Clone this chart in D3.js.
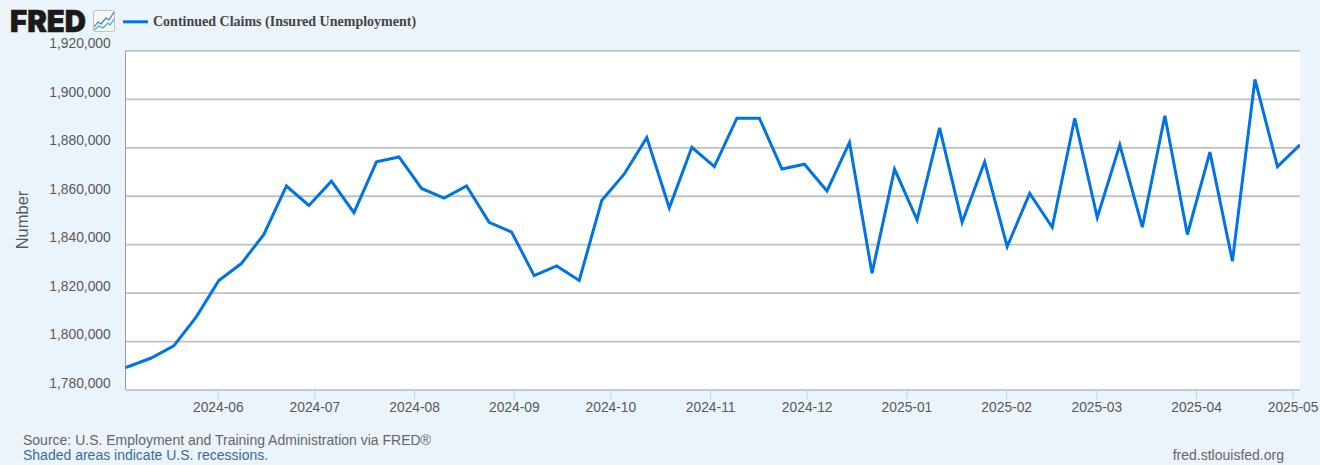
<!DOCTYPE html>
<html><head><meta charset="utf-8">
<script src="https://cdn.jsdelivr.net/npm/d3@7/dist/d3.min.js"></script>
<style>
html,body{margin:0;padding:0;background:#ebf3fb;overflow:hidden}
svg{display:block}
text{font-family:"Liberation Sans",Arial,sans-serif}
</style></head><body><svg id="c" width="1320" height="465"></svg>
<script>
const seriesName = "Continued Claims (Insured Unemployment)";
const weekDates = ["2024-04-27","2024-05-04","2024-05-11","2024-05-18","2024-05-25","2024-06-01","2024-06-08","2024-06-15","2024-06-22","2024-06-29","2024-07-06","2024-07-13","2024-07-20","2024-07-27","2024-08-03","2024-08-10","2024-08-17","2024-08-24","2024-08-31","2024-09-07","2024-09-14","2024-09-21","2024-09-28","2024-10-05","2024-10-12","2024-10-19","2024-10-26","2024-11-02","2024-11-09","2024-11-16","2024-11-23","2024-11-30","2024-12-07","2024-12-14","2024-12-21","2024-12-28","2025-01-04","2025-01-11","2025-01-18","2025-01-25","2025-02-01","2025-02-08","2025-02-15","2025-02-22","2025-03-01","2025-03-08","2025-03-15","2025-03-22","2025-03-29","2025-04-05","2025-04-12","2025-04-19","2025-04-26","2025-05-03"];
const claims = [1787000,1789500,1793000,1798000,1810000,1825000,1832000,1844000,1864000,1856000,1866000,1853000,1874000,1876000,1863000,1859000,1864000,1849000,1845000,1827000,1831000,1825000,1858000,1869000,1884000,1855000,1880000,1872000,1892000,1892000,1871000,1873000,1862000,1882000,1828000,1871000,1850000,1888000,1849000,1874000,1839000,1861000,1847000,1892000,1851000,1881000,1847000,1893000,1844000,1878000,1833000,1908000,1872000,1881000];
const xTickDates = ["2024-06-01","2024-07-01","2024-08-01","2024-09-01","2024-10-01","2024-11-01","2024-12-01","2025-01-01","2025-02-01","2025-03-01","2025-04-01","2025-05-01"];
const yTicks = [1780000,1800000,1820000,1840000,1860000,1880000,1900000,1920000];
const xDomain = ["2024-05-03","2025-05-03"];
const yDomain = [1780000,1920000];
const sourceText = "Source: U.S. Employment and Training Administration via FRED®";
const recessionText = "Shaded areas indicate U.S. recessions.";
const siteText = "fred.stlouisfed.org";
const yTitle = "Number";

const parse = d3.utcParse("%Y-%m-%d");
const L=125.5,R=1300,T=50.4,B=389.5;
const svg = d3.select("#c");
const x = d3.scaleUtc().domain(xDomain.map(parse)).range([L,R]);
const y = d3.scaleLinear().domain(yDomain).range([B,T]);

svg.append("rect").attr("x",L).attr("y",T).attr("width",R-L).attr("height",B-T).attr("fill","#fff");

// grid + y labels
const gy = svg.append("g").attr("transform",`translate(${L},0)`)
  .call(d3.axisLeft(y).tickValues(yTicks).tickFormat(d3.format(",")).tickSize(-(R-L)).tickPadding(14.8));
gy.select(".domain").remove();
gy.selectAll(".tick line").attr("stroke","#c0c0c0").attr("stroke-width",1.8);
gy.selectAll(".tick text").attr("font-family",'"Liberation Sans",Arial,sans-serif').attr("font-size",13.8).attr("fill","#595959").attr("dy",-2.5);

// left axis line
svg.append("line").attr("x1",L).attr("x2",L).attr("y1",T).attr("y2",B).attr("stroke","#9a9a9a").attr("stroke-width",1);

// x axis
const gx = svg.append("g").attr("transform",`translate(-1,${B})`)
  .call(d3.axisBottom(x).tickValues(xTickDates.map(parse)).tickFormat(d3.utcFormat("%Y-%m")).tickSize(10).tickSizeOuter(0).tickPadding(2.5));
gx.select(".domain").remove();
gx.selectAll(".tick line").attr("stroke","#c6d3e6").attr("stroke-width",1);
gx.selectAll(".tick text").attr("font-family",'"Liberation Sans",Arial,sans-serif').attr("font-size",13.8).attr("fill","#595959");
svg.append("line").attr("x1",L).attr("x2",R).attr("y1",B+.3).attr("y2",B+.3).attr("stroke","#c0cfe0").attr("stroke-width",1.6);

// series
svg.append("clipPath").attr("id","pl").append("rect").attr("x",L).attr("y",T-10).attr("width",R-L).attr("height",B-T+20);
const line = d3.line().x((d,i)=>x(parse(weekDates[i]))).y(d=>y(d));
svg.append("path").datum(claims).attr("clip-path","url(#pl)").attr("d",line)
  .attr("fill","none").attr("stroke","#0073e6").attr("stroke-width",3).attr("stroke-linejoin","miter");

// legend
svg.append("line").attr("x1",123).attr("x2",148).attr("y1",21.8).attr("y2",21.8).attr("stroke","#0073e6").attr("stroke-width",3);
svg.append("text").attr("x",153).attr("y",26).text(seriesName)
  .style("font-family",'"Liberation Serif",serif').attr("font-weight","bold").attr("font-size",14).attr("fill","#444");

// y title
svg.append("text").attr("transform","translate(28,220) rotate(-90)").attr("text-anchor","middle").text(yTitle)
  .attr("font-size",16.5).attr("fill","#595959");

// footer
svg.append("text").attr("x",23).attr("y",445).text(sourceText).attr("font-size",14).attr("fill","#666");
svg.append("text").attr("x",23).attr("y",460).text(recessionText).attr("font-size",14).attr("fill","#3b6aa0");
svg.append("text").attr("x",1284).attr("y",460).attr("text-anchor","end").text(siteText).attr("font-size",14).attr("fill","#666");

// logo
svg.append("text").attr("x",10).attr("y",32).text("FRED").style("font-family",'Inter,"Liberation Sans",sans-serif')
  .attr("font-weight",900).attr("font-size",30).attr("fill","#1a1a1a").attr("stroke","#1a1a1a").attr("stroke-width",0.6).attr("textLength",76).attr("lengthAdjust","spacingAndGlyphs");
const icon = svg.append("g");
icon.append("rect").attr("x",93.5).attr("y",10.5).attr("width",21).attr("height",21).attr("rx",1.5).attr("fill","#f4f8fc").attr("stroke","#c4c4c4");
const logoBlue=[[94,27],[98,22],[101,24],[106,18],[109,20],[114,12]], logoGreen=[[94,30],[99,26],[103,28],[108,23],[110,25],[114,19]];
icon.append("path").attr("d",d3.line()(logoBlue)).attr("fill","none").attr("stroke","#2f80d8").attr("stroke-width",1.2);
icon.append("path").attr("d",d3.line()(logoGreen)).attr("fill","none").attr("stroke","#3fb59a").attr("stroke-width",1.2);
</script></body></html>
